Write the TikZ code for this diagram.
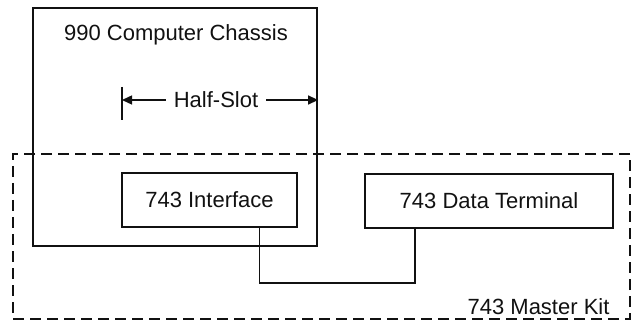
\documentclass[tikz,border=0pt]{standalone}
\usepackage{fontspec}
\setmainfont{Liberation Sans}
\usepackage{tikz}
\usetikzlibrary{positioning,arrows.meta,calc}
\definecolor{ink}{HTML}{111111}

\begin{document}
\begin{tikzpicture}[x=1pt, y=-1pt, font=\fontsize{22}{24}\selectfont, ink,
  unit/.style={draw=ink, line width=2.2pt, inner sep=0pt},
  kit/.style={draw=ink, line width=1.4pt, dash pattern=on 11pt off 6pt, inner sep=0pt},
  span/.style={line width=1.4pt, -{Triangle[length=10pt,width=9pt]}}]
\useasboundingbox (0,0) rectangle (634,320);
\node[kit, minimum width=617, minimum height=165] (kit) at (321.5,236.5){};
\node[unit, minimum width=284, minimum height=238] (chassis) at (175,127){};
\node (chassislbl) at (176,35){990 Computer Chassis};
\node[unit, minimum width=175, minimum height=54] (iface) at (209.5,200){743 Interface};
\node[unit, minimum width=248, minimum height=54] (term) at (489,201){743 Data Terminal};
\node[anchor=east] (kitlbl) at (613,307){743 Master Kit};
\coordinate (slotL) at (122,100);
\draw[line width=1.4pt] (122,87)--(122,120);
\node[inner xsep=8pt] (slot) at (216,100){Half-Slot};
\draw[span] (slot)--(slotL);
\draw[span] (slot)--(chassis.east |- slot);
\draw[line width=1.8pt] ([xshift=50pt]iface.south)--++(0,55) -| ([xshift=-74pt]term.south);
\end{tikzpicture}
\end{document}
